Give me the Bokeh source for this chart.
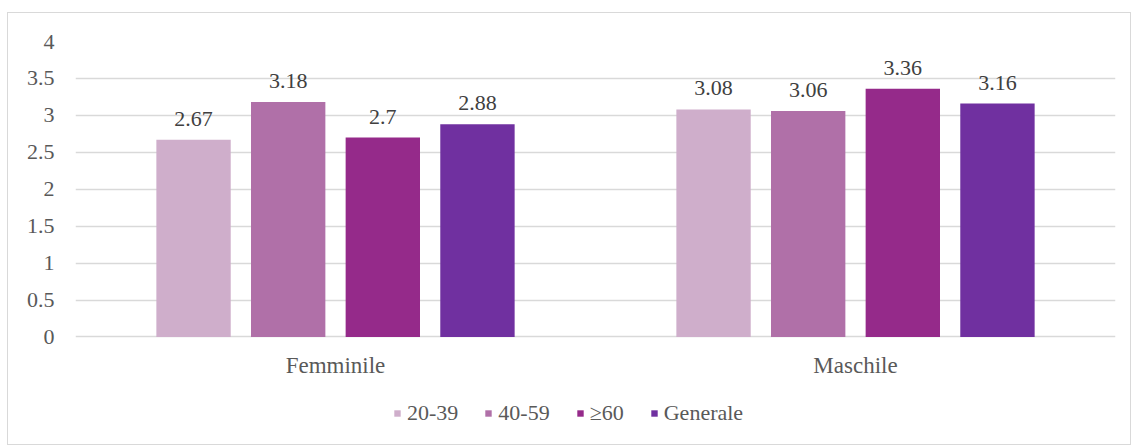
from bokeh.plotting import figure
from bokeh.models import (ColumnDataSource, FactorRange, Range1d, FixedTicker,
                          CustomJSTickFormatter, Legend, LegendItem, LabelSet)
from bokeh.transform import dodge
from bokeh.embed import file_html
from bokeh.resources import INLINE

categories = ["Femminile", "Maschile"]
series = ["20-39", "40-59", "≥60", "Generale"]
v_20_39 = [2.67, 3.08]
v_40_59 = [3.18, 3.06]
v_60 = [2.70, 3.36]
v_gen = [2.88, 3.16]
y_ticks = [0, 0.5, 1, 1.5, 2, 2.5, 3, 3.5, 4]

colors = ["#CFAECB", "#B070A8", "#952A8A", "#7030A0"]
values = [v_20_39, v_40_59, v_60, v_gen]
offsets = [-0.273, -0.091, 0.091, 0.273]

FONT = "serif"

# layout geometry (pixels)
W, H = 1124, 433
TOP = 28
PX_PER_UNIT = 73.5
frame_h = H - 2 - TOP
y_start = y_ticks[-1] - frame_h / PX_PER_UNIT

p = figure(x_range=FactorRange(*categories, range_padding=0),
           y_range=Range1d(y_start, y_ticks[-1]),
           width=W, height=H, output_backend="svg", toolbar_location=None,
           x_axis_location=None,
           min_border_left=67, min_border_right=17, min_border_top=TOP, min_border_bottom=0)
p.margin = (12, 0, 0, 7)
p.styles = {"border": "1px solid #d9d9d9"}
p.outline_line_color = None
p.background_fill_color = "white"
p.border_fill_color = "white"

items = []
for s, vals, c, off in zip(series, values, colors, offsets):
    src = ColumnDataSource(dict(cat=categories, val=vals,
                                lab=[("%g" % v) for v in vals]))
    r = p.vbar(x=dodge("cat", off, range=p.x_range), top="val", width=0.143,
               source=src, fill_color=c, line_color=None)
    items.append(LegendItem(label=s, renderers=[r]))
    lbl = LabelSet(x=dodge("cat", off, range=p.x_range), y="val", text="lab", source=src,
                   text_align="center", text_baseline="bottom", y_offset=14,
                   text_font=FONT, text_font_size="22px", text_color="#404040")
    p.add_layout(lbl)

# category labels under the zero line
cat_src = ColumnDataSource(dict(cat=categories, base=[0] * len(categories)))
p.add_layout(LabelSet(x="cat", y="base", text="cat", source=cat_src,
                      text_align="center", text_baseline="middle", y_offset=-29,
                      text_font=FONT, text_font_size="23px", text_color="#595959"))

p.yaxis.ticker = FixedTicker(ticks=y_ticks)
p.yaxis.formatter = CustomJSTickFormatter(code="return tick.toString();")
p.yaxis.axis_line_color = None
p.yaxis.major_tick_line_color = None
p.yaxis.minor_tick_line_color = None
p.yaxis.major_label_standoff = 15
p.yaxis.major_label_text_font = FONT
p.yaxis.major_label_text_font_size = "22px"
p.yaxis.major_label_text_color = "#595959"

p.xgrid.grid_line_color = None
p.ygrid.grid_line_color = "#d9d9d9"
p.ygrid.grid_line_width = 1.5

legend = Legend(items=items, orientation="horizontal", location=(318, 20),
                glyph_width=8, glyph_height=8, label_standoff=6, spacing=26,
                label_text_font=FONT, label_text_font_size="22px",
                label_text_color="#595959", border_line_color=None,
                background_fill_alpha=0, padding=0, margin=0)
p.add_layout(legend, "center")

open("out.html", "w").write(file_html(p, INLINE))
